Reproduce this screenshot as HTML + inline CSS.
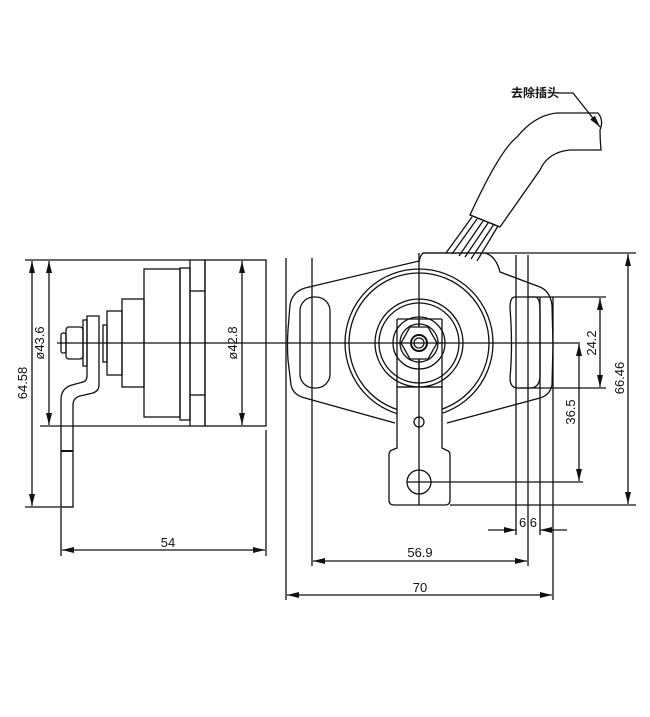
<!DOCTYPE html>
<html><head><meta charset="utf-8"><style>
html,body{margin:0;padding:0;background:#fff;}
svg{display:block;}
text{font-family:"Liberation Sans","Noto Sans CJK SC",sans-serif;fill:#111;}
</style></head><body>
<svg width="650" height="717" viewBox="0 0 650 717" xmlns="http://www.w3.org/2000/svg">
<defs>
<marker id="a" viewBox="0 0 12 6" refX="12" refY="3" markerWidth="12" markerHeight="6" orient="auto-start-reverse" markerUnits="userSpaceOnUse"><path d="M0,0 L12,3 L0,6 Z" fill="#111"/></marker>
</defs>
<g stroke="#111" stroke-width="1.3" fill="none">
<!-- LEFT VIEW -->
<line x1="57" y1="343" x2="580" y2="343"/>
<line x1="25" y1="260" x2="190" y2="260"/>
<line x1="40" y1="426" x2="190" y2="426"/>
<line x1="25" y1="507" x2="73" y2="507"/>
<line x1="32" y1="261" x2="32" y2="506" marker-start="url(#a)" marker-end="url(#a)"/>
<line x1="49" y1="261" x2="49" y2="425" marker-start="url(#a)" marker-end="url(#a)"/>
<rect x="190" y="260" width="15" height="166"/>
<line x1="190" y1="291" x2="205" y2="291"/>
<line x1="190" y1="395" x2="205" y2="395"/>
<rect x="205" y="260" width="61" height="166"/>
<line x1="242" y1="261" x2="242" y2="425" marker-start="url(#a)" marker-end="url(#a)"/>
<rect x="180" y="268" width="10" height="152"/>
<rect x="144" y="269" width="36" height="148"/>
<rect x="122" y="299" width="22" height="88"/>
<rect x="107" y="311" width="15" height="64"/>
<rect x="103" y="325" width="4" height="37"/>
<path d="M87,316 L99,316 L99,385 Q99,391 93,393 L80,396 Q73,398 73,405 L73,507 L61,507 L61,400 Q61,388 72,385 L83,382 Q87,381 87,376 Z"/>
<line x1="61" y1="451" x2="73" y2="451" stroke-width="2"/>
<rect x="66" y="327" width="17" height="32" rx="3"/>
<rect x="83" y="320" width="4" height="46"/>
<rect x="61" y="333" width="5" height="20" rx="2"/>
<line x1="266" y1="430" x2="266" y2="556"/>
<line x1="61" y1="508" x2="61" y2="556"/>
<line x1="62" y1="550" x2="265" y2="550" marker-start="url(#a)" marker-end="url(#a)"/>

<!-- RIGHT VIEW -->
<line x1="286" y1="258" x2="286" y2="600"/>
<line x1="312" y1="258" x2="312" y2="566"/>
<line x1="419" y1="253" x2="419" y2="505"/>
<!-- plate -->
<path d="M419,261 L305,288 Q292,292 290,305 L288,330 Q287,345 288,360 L291,385 Q293,395 305,398 L395,423"/>
<path d="M423,253 L485,253 Q496,256 500,272 L540,287 Q550,291 552,305 L553,345 L552,385 Q550,395 540,398 L447,423"/>
<path d="M423,253 Q420,256 419,262"/>
<rect x="300" y="297" width="30" height="91" rx="14"/>
<path d="M515,297 L535,297 Q540,297 540,310 L540,375 Q540,388 530,388 L518,388 Q510,388 510,378 Q513,345 510,308 Q510,297 515,297 Z"/>
<circle cx="419" cy="343" r="74"/>
<circle cx="419" cy="343" r="70"/>
<circle cx="419" cy="343" r="44"/>
<circle cx="419" cy="343" r="40"/>
<!-- lever -->
<path d="M397,387 L397,448 L392,450 Q389,451 389,455 L389,500 Q389,505 394,505 L445,505 Q450,505 450,500 L450,455 Q450,451 446,450 L442,448 L442,387 Z" fill="#fff"/>
<line x1="397" y1="319" x2="397" y2="387"/>
<line x1="442" y1="319" x2="442" y2="387"/>
<line x1="397" y1="319" x2="442" y2="319"/>
<line x1="397" y1="387" x2="442" y2="387"/>
<line x1="419" y1="319" x2="419" y2="505"/>
<circle cx="419" cy="343" r="26"/>
<circle cx="419" cy="343" r="19"/>
<polygon points="437,343 428,327 410,327 401,343 410,359 428,359" fill="#fff"/>
<circle cx="419" cy="343" r="8" stroke-width="2"/>
<circle cx="419" cy="343" r="5"/>
<line x1="397" y1="343" x2="442" y2="343"/>
<circle cx="419" cy="422" r="5"/>
<circle cx="419" cy="482" r="12"/>
<line x1="407" y1="482" x2="583" y2="482"/>
<!-- vertical ext lines right -->
<line x1="516" y1="255" x2="516" y2="535"/>
<line x1="528" y1="255" x2="528" y2="566"/>
<line x1="540" y1="297" x2="540" y2="535"/>
<line x1="553" y1="297" x2="553" y2="600"/>
<!-- dims -->
<line x1="423" y1="253" x2="636" y2="253"/>
<line x1="450" y1="505" x2="636" y2="505"/>
<line x1="528" y1="297" x2="606" y2="297"/>
<line x1="520" y1="388" x2="606" y2="388"/>
<line x1="628" y1="254" x2="628" y2="504" marker-start="url(#a)" marker-end="url(#a)"/>
<line x1="600" y1="298" x2="600" y2="387" marker-start="url(#a)" marker-end="url(#a)"/>
<line x1="579" y1="344" x2="579" y2="481" marker-start="url(#a)" marker-end="url(#a)"/>
<line x1="488" y1="530" x2="516" y2="530" marker-end="url(#a)"/>
<line x1="567" y1="530" x2="540" y2="530" marker-end="url(#a)"/>
<line x1="313" y1="561" x2="527" y2="561" marker-start="url(#a)" marker-end="url(#a)"/>
<line x1="287" y1="595" x2="552" y2="595" marker-start="url(#a)" marker-end="url(#a)"/>
<!-- cable -->
<path d="M470,215 Q500,150 517,137 Q535,115 557,113 L598,113 Q604,120 600,130 Q600,140 601,150 L570,150 Q548,152 540,170 L500,227 Z" fill="#fff"/>
<line x1="470" y1="215" x2="500" y2="227"/>
<path d="M472,217 L446,253 M477,219 L452,254 M483,221 L459,256 M488,223 L465,257 M494,224 L471,259 M498,226 L477,261"/>
<path d="M558,93 L573,93 L600,127" marker-end="url(#a)"/>
</g>
<g font-size="13">
<text x="168" y="547" text-anchor="middle">54</text>
<text x="420" y="557" text-anchor="middle">56.9</text>
<text x="420" y="592" text-anchor="middle">70</text>
<text x="528" y="527" text-anchor="middle">6 6</text>
<text transform="translate(27,383) rotate(-90)" text-anchor="middle">64.58</text>
<text transform="translate(44,343) rotate(-90)" text-anchor="middle">ø43.6</text>
<text transform="translate(237,343) rotate(-90)" text-anchor="middle">ø42.8</text>
<text transform="translate(596,343) rotate(-90)" text-anchor="middle">24.2</text>
<text transform="translate(575,412) rotate(-90)" text-anchor="middle">36.5</text>
<text transform="translate(624,378) rotate(-90)" text-anchor="middle">66.46</text>
<text x="535" y="97" text-anchor="middle" font-size="12" font-weight="bold">去除插头</text>
</g>
</svg>
</body></html>
